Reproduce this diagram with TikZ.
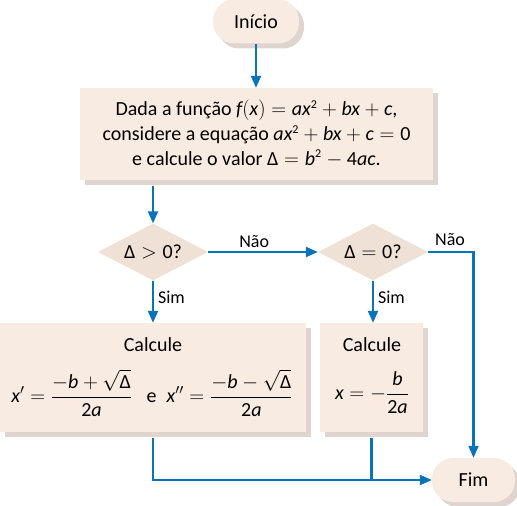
\documentclass[tikz,border=0pt]{standalone}
\usepackage{amsmath}
\usepackage{fontspec}
\setmainfont{Carlito}
\usetikzlibrary{shapes.geometric,arrows.meta,shadows}
\definecolor{boxfill}{HTML}{F8EBE2}
\definecolor{diafill}{HTML}{EFE1D6}
\definecolor{shadowc}{HTML}{DFD5CE}
\definecolor{flow}{HTML}{0A72BA}
\newcommand\vi[1]{\text{\itshape #1}}
\newcommand\tx[1]{\text{#1}}
\newcommand\sqr{^{\text{\fontsize{12bp}{12bp}\selectfont 2}}}
\begin{document}
\begin{tikzpicture}[x=1bp,y=-1bp,
  font=\fontsize{20bp}{25bp}\selectfont,
  boxshadow/.style={copy shadow={shadow xshift=5bp, shadow yshift=-5bp, fill=shadowc, draw=none}},
  pill/.style={rectangle, rounded corners=21bp, fill=boxfill, minimum width=86bp, minimum height=44bp, boxshadow},
  procbox/.style={rectangle, fill=boxfill, inner sep=0pt, boxshadow},
  decision/.style={diamond, fill=diafill, aspect=1.93, inner sep=0pt, minimum width=110bp, minimum height=57bp},
  flowline/.style={draw=flow, line width=2.1bp},
  arrowline/.style={flowline, -{Triangle[length=12bp,width=10bp]}},
  lbl/.style={font=\fontsize{18bp}{20bp}\selectfont, inner sep=1bp}
]
\useasboundingbox (0,0) rectangle (517,506);

\node[pill] (inicio) at (256,21.5) {Início};
\node[procbox, minimum width=353bp, minimum height=92bp, align=center] (dados) at (256.5,134)
  {Dada a função $\vi{f}(\vi{x}) = \vi{ax}\sqr + \vi{bx} + \vi{c}$,\\
   considere a equação $\vi{ax}\sqr + \vi{bx} + \vi{c} = \tx{0}$\\
   e calcule o valor $\tx{Δ} = \vi{b}\sqr - \tx{4}\vi{ac}$.};
\node[decision] (d1) at (153,252) {$\tx{Δ} > \tx{0?}$};
\node[decision] (d2) at (373,252) {$\tx{Δ} = \tx{0?}$};
\node[procbox, minimum width=306bp, minimum height=109bp] (c1) at (153,377.5) {};
\node[procbox, minimum width=103bp, minimum height=109bp] (c2) at (371.5,377.5) {};
\node (c1t) at (153,345) {Calcule};
\node (c1f) at (152,393) {$\vi{x}' = \dfrac{-\vi{b} + \sqrt{\tx{Δ}}}{\tx{2}\vi{a}}$\enspace\ e\enspace $\vi{x}'' = \dfrac{-\vi{b} - \sqrt{\tx{Δ}}}{\tx{2}\vi{a}}$};
\node (c2t) at (372,345) {Calcule};
\node (c2f) at (372,393) {$\vi{x} = -\dfrac{\vi{b}}{\tx{2}\vi{a}}$};
\node[pill, minimum width=83bp] (fim) at (473.5,480) {Fim};

\draw[arrowline] (inicio.south) -- (inicio.south |- dados.north);
\draw[arrowline, shorten <=6bp] (d1.north |- dados.south) -- (d1.north);
\draw[arrowline] (d1.east) -- node[lbl, above=2bp, pos=0.42] (nao1) {Não} (d2.west);
\draw[arrowline] (d2.east) -| (fim.north);
\node[lbl] (nao2) at (450,240) {Não};
\draw[arrowline] (d1.south) -- node[lbl, right=3bp, pos=0.4] (sim1) {Sim} (d1.south |- c1.north);
\draw[arrowline] (d2.south) -- node[lbl, right=3bp, pos=0.4] (sim2) {Sim} (d2.south |- c2.north);
\draw[arrowline, shorten <=6bp] (c1.south) |- (fim.west);
\coordinate (join) at (c2.south |- fim.west);
\draw[flowline, shorten <=6bp] (c2.south) -- (join);
\end{tikzpicture}
\end{document}
